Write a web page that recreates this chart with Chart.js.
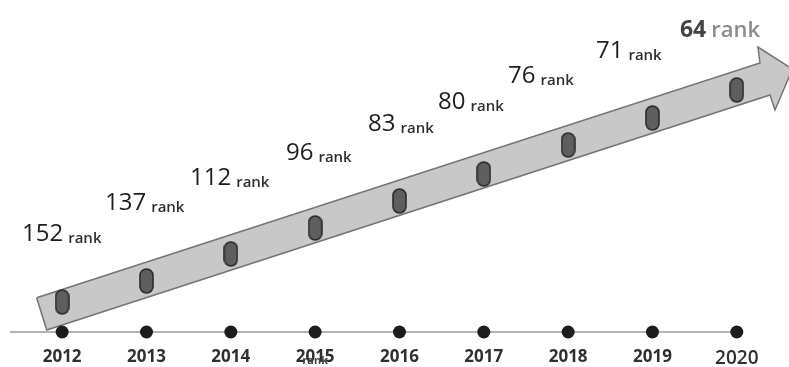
<!DOCTYPE html>
<html>
<head>
<meta charset="utf-8">
<script src="https://cdn.jsdelivr.net/npm/chart.js@4.4.1/dist/chart.umd.min.js"></script>
<style>
  html, body { margin: 0; padding: 0; background: #ffffff; }
  #wrap { width: 789px; height: 367px; position: relative; }
</style>
</head>
<body>
<div id="wrap"><canvas id="rankChart"></canvas></div>
<script>
// data
const years = ['2012', '2013', '2014', '2015', '2016', '2017', '2018', '2019', '2020'];
const ranks = [152, 137, 112, 96, 83, 80, 76, 71, 64];

// height of each marker on the arrow (above the time line)
const markerLevel = [30, 51, 78, 104, 131, 158, 187, 214, 242];

// where each "NN rank" label sits (x in year slots, y in height units)
const labelX = [-0.476, 0.508, 1.516, 2.654, 3.627, 4.457, 5.287, 6.330, 7.326];
const labelY = [91, 122, 147, 172, 201, 223, 249, 274, 295];

// outline of the big arrow, in the same units
const arrowX = [-0.302, -0.183, 8.394, 8.453, 8.66, 8.251, 8.275, -0.302];
const arrowY = [34.3, 2, 237, 222, 263, 285, 269, 34.3];

// time line ends
const lineX = [-0.62, 8];

Chart.defaults.font.family = "'Open Sans', sans-serif";

// little pill used for the markers
function makePill(){
    const c = document.createElement('canvas');
    c.width = 15; c.height = 26;
    const g = c.getContext('2d');
    g.fillStyle = '#5e5e5e';
    g.strokeStyle = '#2c2c2c';
    g.lineWidth = 1.6;
    g.beginPath();
    g.roundRect(1, 1, 13, 24, 6.5);
    g.fill();
    g.stroke();
    return c;
}
const pill = makePill();

const rankLabels = {
    id: 'rankLabels',
    afterDatasetsDraw(chart){
        const ctx = chart.ctx;
        const meta = chart.getDatasetMeta(4);
        ctx.save();
        ctx.textBaseline = 'alphabetic';
        ctx.textAlign = 'left';
        meta.data.forEach((pt, i) => {
            const last = i === ranks.length - 1;
            const num = String(ranks[i]);
            ctx.font = last ? "bold 23px 'Open Sans'" : "24px 'Open Sans'";
            ctx.fillStyle = last ? '#444444' : '#1e1e1e';
            ctx.fillText(num, pt.x, pt.y);
            const w = ctx.measureText(num).width;
            ctx.font = last ? "600 22px 'Open Sans'" : "600 15px 'Open Sans'";
            ctx.fillStyle = last ? '#8c8c8c' : '#2e2e2e';
            ctx.fillText('rank', pt.x + w + 5, pt.y + (last ? 0 : 2));
        });
        // stray "rank" that overlaps the 2015 tick in the original
        const xs = chart.scales.x;
        ctx.font = "bold 11px 'Open Sans'";
        ctx.fillStyle = '#444444';
        ctx.textAlign = 'center';
        ctx.fillText('rank', xs.getPixelForValue(3), 364);
        ctx.restore();
    }
};

const chart = new Chart(document.getElementById('rankChart'), {
    type: 'line',
    data: {
        datasets: [
            {
                label: 'arrow',
                data: arrowX.map((x, i) => ({x: x, y: arrowY[i]})),
                borderColor: '#747474',
                borderWidth: 1.5,
                backgroundColor: '#c8c8c8',
                fill: 'shape',
                pointRadius: 0,
                tension: 0,
                clip: false,
                order: 5
            },
            {
                label: 'timeline',
                data: lineX.map(x => ({x: x, y: 0})),
                borderColor: '#9a9a9a',
                borderWidth: 1.5,
                pointRadius: 0,
                fill: false,
                order: 4
            },
            {
                label: 'years',
                data: years.map((y, i) => ({x: i, y: 0})),
                showLine: false,
                pointRadius: 6.5,
                pointBackgroundColor: '#1c1c1c',
                pointBorderColor: '#1c1c1c',
                pointBorderWidth: 0,
                order: 3
            },
            {
                label: 'markers',
                data: markerLevel.map((v, i) => ({x: i, y: v})),
                showLine: false,
                pointStyle: pill,
                order: 2
            },
            {
                label: 'labels',
                data: labelX.map((x, i) => ({x: x, y: labelY[i]})),
                showLine: false,
                pointRadius: 0,
                order: 1
            }
        ]
    },
    options: {
        responsive: true,
        maintainAspectRatio: false,
        animation: false,
        layout: { padding: 0, autoPadding: false },
        plugins: {
            legend: { display: false },
            tooltip: { enabled: false }
        },
        scales: {
            x: {
                type: 'linear',
                min: -0.737,
                max: 8.619,
                grid: { display: false, drawTicks: false },
                border: { display: false },
                afterFit(axis){ axis.height = 27; },
                ticks: {
                    stepSize: 1,
                    includeBounds: false,
                    autoSkip: false,
                    maxRotation: 0,
                    padding: 7,
                    color: '#303030',
                    font: ctx => {
                        const i = ctx.tick ? ctx.tick.value : 0;
                        if (i === 8) return {size: 19, weight: '600'};
                        return {size: 17, weight: 'bold'};
                    },
                    callback: v => years[v] ?? ''
                }
            },
            y: {
                display: false,
                min: -8,
                max: 332
            }
        }
    },
    plugins: [rankLabels]
});
</script>
</body>
</html>
